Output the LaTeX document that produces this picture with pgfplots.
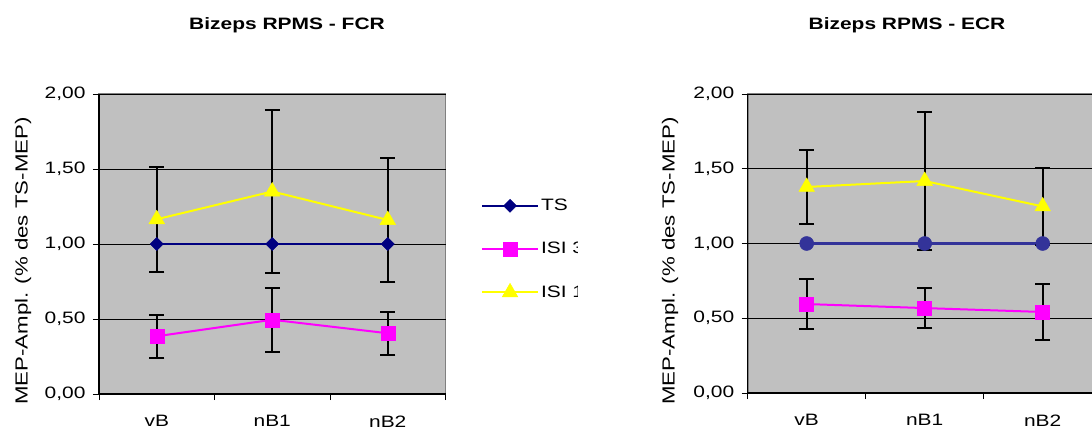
\documentclass[border=0pt]{standalone}
\usepackage{fontspec}
\setmainfont{Liberation Sans}[FakeStretch=1.27]
\usepackage{pgfplots}
\pgfplotsset{compat=1.18}
\definecolor{bg}{HTML}{C0C0C0}
\definecolor{tsnavy}{HTML}{000080}
\definecolor{tsblue}{HTML}{333399}
\definecolor{mag}{HTML}{FF00FF}
\definecolor{yel}{HTML}{FFFF00}
\definecolor{frame}{HTML}{808080}

\pgfplotstableread{
x y e
0.5 1.00 0
1.5 1.00 0
2.5 1.00 0
}\tsleft
\pgfplotstableread{
x y e
0.5 0.385 0.145
1.5 0.495 0.215
2.5 0.405 0.143
}\magleft
\pgfplotstableread{
x y e
0.5 1.165 0.35
1.5 1.350 0.54
2.5 1.160 0.415
}\yelleft
\pgfplotstableread{
x y e
0.5 1.00 0
1.5 1.00 0
2.5 1.00 0
}\tsright
\pgfplotstableread{
x y e
0.5 0.595 0.168
1.5 0.568 0.135
2.5 0.542 0.187
}\magright
\pgfplotstableread{
x y e
0.5 1.378 0.246
1.5 1.418 0.462
2.5 1.248 0.255
}\yelright

\pgfplotsset{
 mystyle/.style={
  scale only axis,
  xmin=0, xmax=3, ymin=0, ymax=2,
  axis lines=left,
  axis line style={-, line width=1.2pt, black},
  axis background/.style={fill=bg, draw=frame, line width=1.6pt},
  xtick={0,1,2,3}, xticklabels={},
  extra x ticks={0.5,1.5,2.5},
  extra x tick labels={vB,nB1,nB2},
  extra x tick style={major tick length=0pt, xticklabel style={yshift=-18pt}},
  ytick={0,0.5,1,1.5,2},
  yticklabels={{0,00},{0,50},{1,00},{1,50},{2,00}},
  tick align=outside, major tick length=6pt,
  tick style={black, line width=0.8pt},
  ymajorgrids, grid style={black, line width=0.9pt},
  ticklabel style={font=\fontsize{16.5}{18}\selectfont},
  yticklabel style={xshift=-4pt},
  clip=false,
  error bars/error bar style={black, line width=2pt},
  error bars/error mark options={rotate=90, mark size=7.5pt, line width=2pt, black},
 }
}

\begin{document}
\begin{tikzpicture}[x=1pt,y=1pt]
\clip (0,0) rectangle (1092,429);
\fill[white] (0,0) rectangle (1092,429);

\begin{axis}[mystyle, at={(99pt,35pt)}, anchor=south west, width=346.5pt, height=300pt,
  legend style={at={(1.102,0.483)}, anchor=west, draw=none, fill=none, inner sep=0pt,
    font=\fontsize{16.5}{18}\selectfont, row sep=26pt},
  legend cell align=left,
  legend image code/.code={\draw[mark repeat=2,mark phase=2,#1] plot coordinates {(0pt,0pt) (28pt,0pt) (56pt,0pt)};}]
\addplot[draw=tsnavy, line width=2pt, mark=square*, mark size=4.6pt, mark options={rotate=45, fill=tsnavy, draw=tsnavy, line width=0.5pt}] table[x=x,y=y] {\tsleft};
\addlegendentry{TS}
\addplot[draw=mag, line width=2pt, mark=square*, mark size=7pt, mark options={fill=mag, draw=mag, line width=0.5pt},
  error bars/.cd, y dir=both, y explicit] table[x=x,y=y,y error=e] {\magleft};
\addlegendentry{ISI 3}
\addplot[draw=yel, line width=2pt, mark=triangle*, mark size=9pt, mark options={fill=yel, draw=yel, line width=0.5pt},
  error bars/.cd, y dir=both, y explicit] table[x=x,y=y,y error=e] {\yelleft};
\addlegendentry{ISI 1}
\end{axis}

\fill[white] (578,120) rectangle (650,245);

\begin{axis}[mystyle, at={(747.7pt,36pt)}, anchor=south west, width=354pt, height=299pt]
\addplot[draw=tsblue, line width=2.2pt, no marks] table[x=x,y=y] {\tsright};
\addplot[only marks, mark=*, mark size=7pt, mark options={fill=tsblue, draw=tsblue, line width=0.5pt}] table[x=x,y=y] {\tsright};
\addplot[draw=mag, line width=2pt, mark=square*, mark size=7pt, mark options={fill=mag, draw=mag, line width=0.5pt},
  error bars/.cd, y dir=both, y explicit] table[x=x,y=y,y error=e] {\magright};
\addplot[draw=yel, line width=2pt, mark=triangle*, mark size=9pt, mark options={fill=yel, draw=yel, line width=0.5pt},
  error bars/.cd, y dir=both, y explicit] table[x=x,y=y,y error=e] {\yelright};
\end{axis}

\node[font=\bfseries\fontsize{16.5}{18}\selectfont] at (287,404) {Bizeps RPMS - FCR};
\node[font=\bfseries\fontsize{16.5}{18}\selectfont] at (907,404) {Bizeps RPMS - ECR};
\node[rotate=90, font=\fontsize{17.5}{20}\selectfont] at (23,168) {MEP-Ampl. (\% des TS-MEP)};
\node[rotate=90, font=\fontsize{17.5}{20}\selectfont] at (670,168) {MEP-Ampl. (\% des TS-MEP)};
\end{tikzpicture}
\end{document}
